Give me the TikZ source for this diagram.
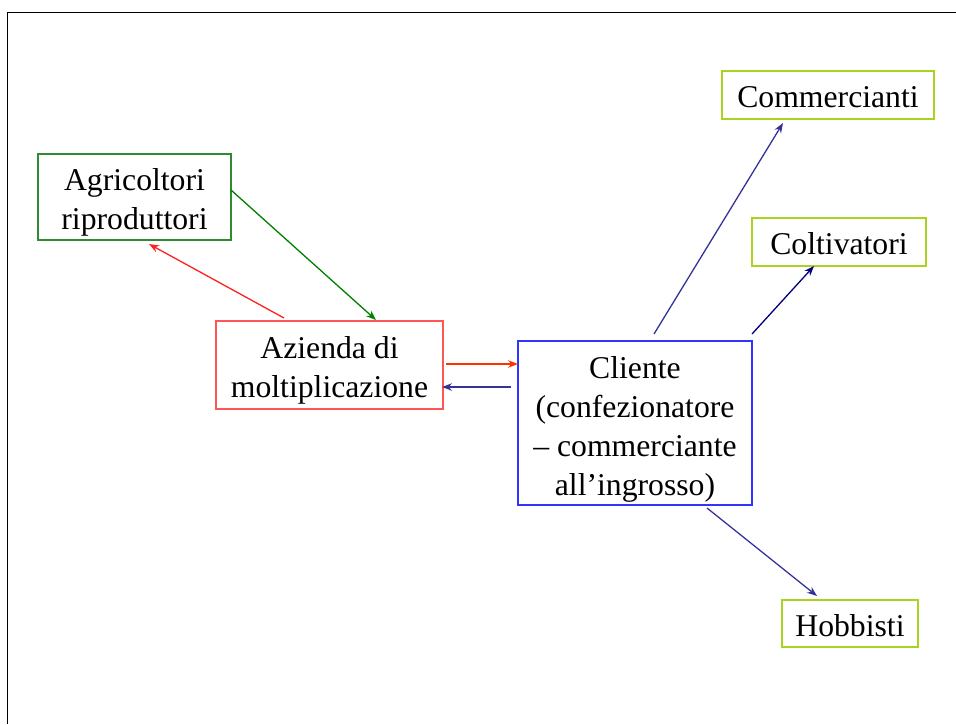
\documentclass[tikz,border=0pt]{standalone}
\usepackage{fontspec}
\setmainfont{Liberation Serif}
\usetikzlibrary{arrows.meta}
\definecolor{boxgreen}{HTML}{2E8B2E}
\definecolor{arrgreen}{HTML}{008000}
\definecolor{boxred}{HTML}{FF5555}
\definecolor{arrred}{HTML}{FF2020}
\definecolor{arrorange}{HTML}{FF3300}
\definecolor{boxblue}{HTML}{3333FF}
\definecolor{arrblue}{HTML}{333399}
\definecolor{arrnavy}{HTML}{000080}
\definecolor{boxlime}{HTML}{A8D420}
\begin{document}
\begin{tikzpicture}[x=1pt,y=-1pt,
  box/.style={draw,line width=1.2pt,inner sep=0pt},
  txt/.style={inner sep=0pt,align=center,font=\fontsize{31.7}{39}\selectfont,text=black},
  conn/.style={line width=1.3pt,-{Stealth[length=10pt,width=7.5pt]}}]
\useasboundingbox (0,0) rectangle (956,724);
\draw[line width=1.7pt] (7.5,724) -- (7.5,12.5) -- (956,12.5);
\node[box,draw=boxgreen,minimum width=193pt,minimum height=86pt] (agr) at (134.5,197) {};
\node[box,draw=boxred,minimum width=227pt,minimum height=88pt] (az) at (329.5,365) {};
\node[box,draw=boxblue,minimum width=234pt,minimum height=164pt] (cl) at (635,423) {};
\node[box,draw=boxlime,minimum width=212pt,minimum height=48pt] (com) at (828,95) {};
\node[box,draw=boxlime,minimum width=174pt,minimum height=48pt] (col) at (839,242) {};
\node[box,draw=boxlime,minimum width=136pt,minimum height=47pt] (hob) at (850,623.5) {};
\node[txt] (agrT) at ([yshift=-5pt]agr.center) {Agricoltori\\riproduttori};
\node[txt] (azT) at ([yshift=-5pt]az.center) {Azienda di\\moltiplicazione};
\node[txt] (clT) at ([yshift=-6pt]cl.center) {Cliente\\(confezionatore\\– commerciante\\all’ingrosso)};
\node[txt] (comT) at ([yshift=-2pt]com.center) {Commercianti};
\node[txt] (colT) at ([yshift=-2pt]col.center) {Coltivatori};
\node[txt] (hobT) at ([yshift=-2pt]hob.center) {Hobbisti};
% connector end points
\coordinate (g1) at (231,190); \coordinate (g2) at (376,320);
\coordinate (r1) at (284,318); \coordinate (r2) at (149,244);
\coordinate (h1) at (446,364); \coordinate (h2) at (518,364);
\coordinate (b1) at (511,387); \coordinate (b2) at (442,387);
\coordinate (c1) at (654,334); \coordinate (c2) at (783,123);
\coordinate (v1) at (752,334); \coordinate (v2) at (814,266);
\coordinate (o1) at (707,508); \coordinate (o2) at (817,596);
\draw[conn,draw=arrgreen,fill=arrgreen] (g1) -- (g2);
\draw[conn,draw=arrred,fill=arrred] (r1) -- (r2);
\draw[conn,draw=arrorange,fill=arrorange] (h1) -- (h2);
\draw[conn,draw=arrblue,fill=arrblue] (b1) -- (b2);
\draw[conn,draw=arrblue,fill=arrblue] (c1) -- (c2);
\draw[conn,draw=arrnavy,fill=arrnavy] (v1) -- (v2);
\draw[conn,draw=arrblue,fill=arrblue] (o1) -- (o2);
\end{tikzpicture}
\end{document}
